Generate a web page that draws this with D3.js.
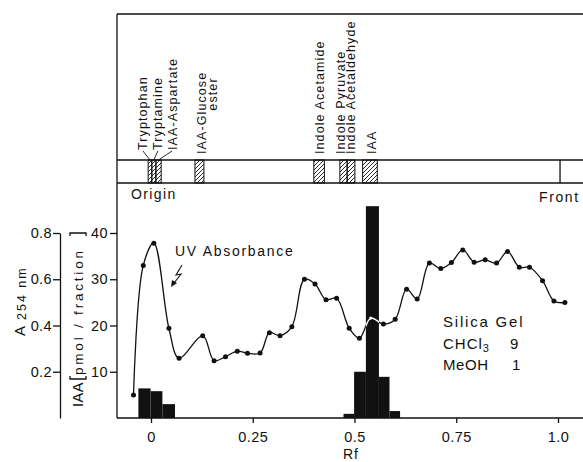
<!DOCTYPE html>
<html>
<head>
<meta charset="utf-8">
<script src="https://cdn.jsdelivr.net/npm/d3@7"></script>
<style>
body{margin:0;background:#fff}
text{font-family:"Liberation Sans",Arial,sans-serif;fill:#111}
</style>
</head>
<body>
<div id="chart"></div>
<script>
// UV absorbance (A254) per fraction
var uvRf = [-0.043,-0.019,0.007,0.044,0.069,0.127,0.155,0.183,0.212,0.237,0.268,0.291,0.317,0.346,0.377,0.403,0.430,0.456,0.487,0.512,0.540,0.571,0.600,0.628,0.654,0.684,0.712,0.738,0.766,0.794,0.821,0.849,0.876,0.905,0.930,0.962,0.990,1.017];
var uvAbs = [0.10,0.66,0.756,0.388,0.258,0.356,0.248,0.265,0.289,0.280,0.281,0.369,0.356,0.395,0.600,0.579,0.511,0.518,0.388,0.345,0.432,0.406,0.427,0.557,0.515,0.670,0.646,0.672,0.727,0.674,0.684,0.670,0.720,0.652,0.652,0.594,0.506,0.499];

// IAA histogram (pmol / fraction)
var iaaLo  = [-0.031,-0.001,0.028,0.473,0.499,0.528,0.560,0.586];
var iaaHi  = [-0.001,0.028,0.059,0.499,0.528,0.560,0.586,0.612];
var iaaVal = [6.4,5.8,3.0,0.9,10.0,45.8,8.9,1.5];

// reference spots on the TLC strip
var spotNames  = ["Tryptophan","Tryptamine","IAA-Aspartate","IAA-Glucose","Indole Acetamide","Indole Pyruvate","Indole Acetaldehyde","IAA"];
var spotNames2 = ["","","","ester","","","",""];
var spotLo = [-0.007,0.002,0.012,0.108,0.400,0.464,0.482,0.520];
var spotHi = [0.002,0.012,0.025,0.130,0.426,0.482,0.501,0.556];
var frontRf = 1.005;

var rfTicks = [0,0.25,0.5,0.75,1.0];
var rfTickLabels = ["0","0.25","0.5","0.75","1.0"];
var absTicks = [0.2,0.4,0.6,0.8];
var iaaTicks = [10,20,30,40];

// label offsets from spot centre (px), layout only
var labelShift = [-7,4,13.5,2,0,-2.6,-1,2];

var w = 583, h = 462;
var svg = d3.select('#chart').append('svg').attr('width', w).attr('height', h);

var x  = d3.scaleLinear().domain([0,1]).range([151,558]);
var yA = d3.scaleLinear().domain([0,0.8]).range([418,233]);
var yI = d3.scaleLinear().domain([0,40]).range([418,233]);

var defs = svg.append('defs');
var pat = defs.append('pattern').attr('id','hatch').attr('patternUnits','userSpaceOnUse')
  .attr('width',4).attr('height',4);
pat.append('path').attr('d','M-1,1 l2,-2 M0,4 l4,-4 M3,5 l2,-2')
  .attr('stroke','#111').attr('stroke-width',0.9);

var clip = defs.append('clipPath').attr('id','barclip');
iaaVal.forEach(function(v,i){
  clip.append('rect').attr('x',x(iaaLo[i])).attr('y',yI(v))
    .attr('width',x(iaaHi[i])-x(iaaLo[i])).attr('height',yI(0)-yI(v));
});

// frame: top box, strip, left axis line
var ink = '#111';
svg.append('line').attr('x1',117).attr('x2',583).attr('y1',14).attr('y2',14).attr('stroke',ink).attr('stroke-width',1.3);
svg.append('line').attr('x1',117).attr('x2',117).attr('y1',14).attr('y2',418).attr('stroke',ink).attr('stroke-width',1.3);
svg.append('line').attr('x1',117).attr('x2',583).attr('y1',160).attr('y2',160).attr('stroke',ink).attr('stroke-width',1.3);
svg.append('line').attr('x1',117).attr('x2',583).attr('y1',183).attr('y2',183).attr('stroke',ink).attr('stroke-width',1.3);
svg.append('line').attr('x1',x(frontRf)).attr('x2',x(frontRf)).attr('y1',160).attr('y2',183).attr('stroke',ink).attr('stroke-width',1.3);

// spots
svg.selectAll('rect.spot').data(spotNames).enter().append('rect').attr('class','spot')
  .attr('x',function(d,i){return x(spotLo[i]);})
  .attr('y',160)
  .attr('width',function(d,i){return x(spotHi[i])-x(spotLo[i]);})
  .attr('height',23)
  .attr('fill','url(#hatch)').attr('stroke',ink).attr('stroke-width',1);

// spot labels (vertical)
spotNames.forEach(function(name,i){
  var cx = (x(spotLo[i])+x(spotHi[i]))/2;
  var lx = cx + labelShift[i];
  var bottom = Math.abs(labelShift[i]) > 3 ? 150 : 154;
  svg.append('text')
    .attr('transform','translate('+lx+','+bottom+') rotate(-90)')
    .attr('dy','0.36em').attr('font-size',12.5).attr('letter-spacing',1.1)
    .text(name);
  if (spotNames2[i]) {
    svg.append('text')
      .attr('transform','translate('+(lx+11.5)+','+94+') rotate(-90)')
      .attr('dy','0.36em').attr('text-anchor','middle').attr('font-size',12.5).attr('letter-spacing',1.1)
      .text(spotNames2[i]);
  }
  if (Math.abs(labelShift[i]) > 3) {
    svg.append('line').attr('x1',lx).attr('y1',151).attr('x2',cx).attr('y2',160)
      .attr('stroke',ink).attr('stroke-width',0.9);
  }
});

svg.append('text').attr('x',131).attr('y',199).attr('font-size',14).attr('letter-spacing',1.4).text('Origin');
svg.append('text').attr('x',539).attr('y',202).attr('font-size',14).attr('letter-spacing',1.6).text('Front');

// IAA bars
svg.selectAll('rect.bar').data(iaaVal).enter().append('rect').attr('class','bar')
  .attr('x',function(d,i){return x(iaaLo[i]);})
  .attr('y',function(d){return yI(d);})
  .attr('width',function(d,i){return x(iaaHi[i])-x(iaaLo[i]);})
  .attr('height',function(d){return yI(0)-yI(d);})
  .attr('fill',ink);

// UV curve
var pts = uvRf.map(function(r,i){return [x(r), yA(uvAbs[i])];});
var line = d3.line().curve(d3.curveCatmullRom.alpha(0.5));
svg.append('path').attr('d',line(pts)).attr('fill','none').attr('stroke',ink).attr('stroke-width',1.3);
svg.selectAll('circle.dot').data(pts).enter().append('circle').attr('class','dot')
  .attr('cx',function(d){return d[0];}).attr('cy',function(d){return d[1];})
  .attr('r',2.5).attr('fill',ink);
// where the curve crosses the black bar it shows white
var over = svg.append('g').attr('clip-path','url(#barclip)');
over.append('path').attr('d',line(pts)).attr('fill','none').attr('stroke','#fff').attr('stroke-width',1.5);
over.selectAll('circle').data(pts).enter().append('circle')
  .attr('cx',function(d){return d[0];}).attr('cy',function(d){return d[1];})
  .attr('r',1.6).attr('fill','#fff');

// axes
var gA = svg.append('g').attr('transform','translate(60,0)')
  .call(d3.axisLeft(yA).tickValues(absTicks).tickSize(7).tickSizeOuter(0).tickPadding(1).tickFormat(d3.format('.1f')));
var gI = svg.append('g').attr('transform','translate(117,0)')
  .call(d3.axisLeft(yI).tickValues(iaaTicks).tickSize(7).tickSizeOuter(0).tickPadding(2));
gI.select('.domain').remove();
var gX = svg.append('g').attr('transform','translate(0,418)')
  .call(d3.axisBottom(x).tickValues(rfTicks).tickSize(5).tickPadding(8.7)
    .tickFormat(function(d,i){return rfTickLabels[i];}));
gX.select('.domain').remove();
svg.append('line').attr('x1',117).attr('x2',583).attr('y1',418).attr('y2',418).attr('stroke',ink).attr('stroke-width',1.3);

[gA,gI,gX].forEach(function(g){
  g.attr('font-family',null).attr('font-size',null);
  g.selectAll('.tick text').attr('font-size',14.5).attr('letter-spacing',0.4).attr('fill',ink);
  g.selectAll('line,path').attr('stroke',ink).attr('stroke-width',1.3);
});

// axis titles
var tA = svg.append('text').attr('transform','translate(25,336) rotate(-90)').attr('letter-spacing',2);
tA.append('tspan').attr('font-size',15).text('A');
tA.append('tspan').attr('font-size',12.5).attr('dx',4).attr('dy',0.5).text('254 nm');

var gT = svg.append('g').attr('transform','translate(83,0) rotate(-90)');
gT.append('text').attr('x',-407).attr('y',0).attr('font-size',14.5).attr('letter-spacing',0.5).text('IAA');
gT.append('path').attr('d','M-376,-13 L-379,-13 L-379,3 L-376,3').attr('fill','none').attr('stroke',ink).attr('stroke-width',1.3);
gT.append('text').attr('x',-375).attr('y',0).attr('font-size',13.5).attr('letter-spacing',2.8).text('pmol / fraction');
gT.append('path').attr('d','M-236,-13 L-233,-13 L-233,3 L-236,3').attr('fill','none').attr('stroke',ink).attr('stroke-width',1.3);

svg.append('text').attr('x',343).attr('y',459).attr('font-size',14).attr('letter-spacing',1).text('Rf');

// annotations
svg.append('text').attr('x',175).attr('y',256).attr('font-size',14).attr('letter-spacing',1.7).text('UV Absorbance');
svg.append('path').attr('d','M182,265 L176,275 L181,274 L174,283').attr('fill','none').attr('stroke',ink).attr('stroke-width',1.1);
svg.append('path').attr('d','M171,287 L172,280 L177,283 Z').attr('fill',ink);

svg.append('text').attr('x',443).attr('y',327).attr('font-size',15).attr('letter-spacing',1.8).text('Silica Gel');
var t2 = svg.append('text').attr('x',443).attr('y',349).attr('font-size',15).attr('letter-spacing',1);
t2.append('tspan').text('CHCl');
t2.append('tspan').attr('font-size',11).attr('dy',3).text('3');
svg.append('text').attr('x',510).attr('y',349).attr('font-size',15).text('9');
svg.append('text').attr('x',443).attr('y',370).attr('font-size',15).attr('letter-spacing',0.6).text('MeOH');
svg.append('text').attr('x',512).attr('y',370).attr('font-size',15).text('1');
</script>
</body>
</html>
